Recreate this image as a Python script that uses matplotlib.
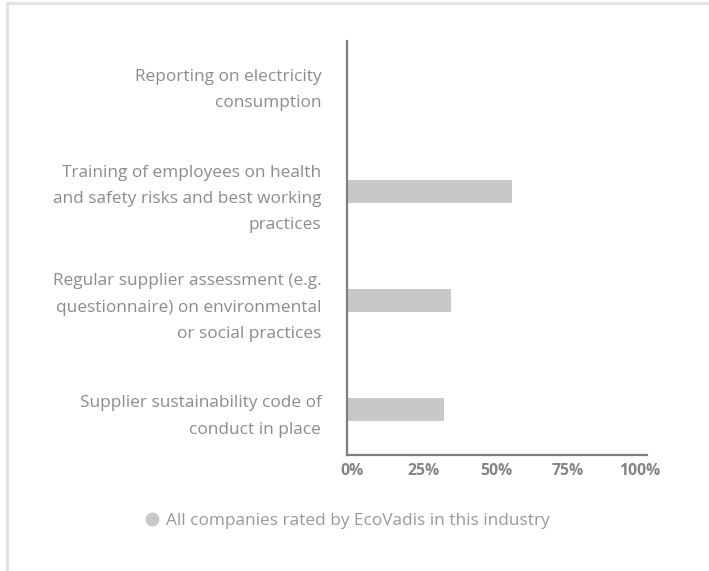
import matplotlib
matplotlib.use('Agg')
import matplotlib.pyplot as plt
import matplotlib.transforms as mtransforms
from matplotlib.lines import Line2D

plt.rcParams['font.family'] = ['Open Sans', 'DejaVu Sans']

# data (share of companies, %)
categories = [
    'Reporting on electricity\nconsumption',
    'Training of employees on health\nand safety risks and best working\npractices',
    'Regular supplier assessment (e.g.\nquestionnaire) on environmental\nor social practices',
    'Supplier sustainability code of\nconduct in place',
]
values = [0, 57.3, 36.0, 33.7]
ticks = [0, 25, 50, 75, 100]
tick_labels = ['0%', '25%', '50%', '75%', '100%']
series_name = 'All companies rated by EcoVadis in this industry'

bar_color = '#c8c8c8'
axis_color = '#7f7f7f'
text_color = '#8c8c8c'

W, H = 709, 571
fig = plt.figure(figsize=(W / 100, H / 100), dpi=100)
ax = fig.add_axes([347 / W, 1 - 455 / H, 300 / W, 414 / H])

pos = list(range(len(categories)))
ax.barh(pos, values, height=0.21, color=bar_color, zorder=2)
ax.set_xlim(0, 104.2)
ax.set_ylim(3.42, -0.386)

ax.set_yticks(pos)
ax.set_yticklabels(categories, fontsize=12.4, color=text_color, linespacing=1.87)
ax.set_xticks(ticks)
ax.set_xticklabels(tick_labels, fontsize=11.3, fontweight='bold', color='#858585')
ax.tick_params(axis='y', length=0, pad=18.5)
ax.tick_params(axis='x', length=0, pad=5.5)

# shift the x labels a bit to the right like in the original
offset = mtransforms.ScaledTranslation(5 / 100, 0, fig.dpi_scale_trans)
for lab in ax.get_xticklabels():
    lab.set_transform(lab.get_transform() + offset)

for s in ['top', 'right']:
    ax.spines[s].set_visible(False)
for s in ['left', 'bottom']:
    ax.spines[s].set_color(axis_color)
    ax.spines[s].set_linewidth(1.6)

# legend
fig.text(166 / W, 1 - 521 / H, series_name, fontsize=12.4, color='#999999',
         va='center', ha='left')
fig.add_artist(Line2D([152 / W], [1 - 519 / H], marker='o', markersize=9,
                      color=bar_color, linestyle='none'))

# light frame (top and left)
fig.add_artist(Line2D([7 / W, 1], [1 - 3 / H, 1 - 3 / H], color='#e3e3e3', lw=2.2))
fig.add_artist(Line2D([7 / W, 7 / W], [0, 1 - 3 / H], color='#e3e3e3', lw=2.2))

fig.savefig('out.png', dpi=100)
